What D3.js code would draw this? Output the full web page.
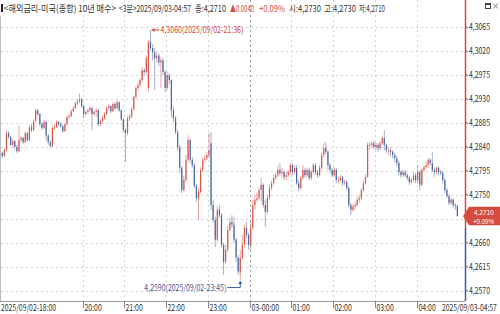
<!DOCTYPE html>
<html><head><meta charset="utf-8">
<script src="https://cdn.jsdelivr.net/npm/d3@7"></script>
<style>
html,body{margin:0;padding:0;background:#fff;}
svg{display:block;}
text{font-family:"Noto Sans CJK KR","Noto Sans",sans-serif;}
text.num{font-family:"Liberation Sans","DejaVu Sans",sans-serif;}
</style></head>
<body>
<svg id="c" width="500" height="314"></svg>
<script>
// ---------- DATA ----------
const title = "<해외금리-미국(종합) 10년 매수>";
const period = "<3분>2025/09/03-04:57";
const startTime = new Date(2025, 8, 2, 18, 0);
const barMinutes = 3;
const opens = [4.2793,4.2829,4.2823,4.2834,4.2866,4.2859,4.2844,4.2851,4.2840,4.2832,4.2853,4.2857,4.2849,4.2866,4.2853,4.2877,4.2872,4.2889,4.2909,4.2902,
4.2883,4.2876,4.2887,4.2862,4.2849,4.2842,4.2876,4.2877,4.2887,4.2883,4.2879,4.2870,4.2883,4.2896,4.2898,4.2907,4.2913,4.2922,4.2926,4.2930,
4.2917,4.2902,4.2906,4.2909,4.2913,4.2902,4.2906,4.2909,4.2883,4.2889,4.2894,4.2902,4.2913,4.2917,4.2907,4.2921,4.2913,4.2924,4.2909,4.2892,
4.2872,4.2866,4.2894,4.2898,4.2911,4.2934,4.2951,4.2956,4.2966,4.2984,4.2981,4.2951,4.3037,4.3026,4.3018,4.3007,4.3012,4.2999,4.3003,4.2981,
4.2951,4.2975,4.2966,4.2909,4.2894,4.2868,4.2840,4.2801,4.2759,4.2778,4.2816,4.2853,4.2816,4.2806,4.2767,4.2744,4.2756,4.2797,4.2816,4.2819,
4.2825,4.2847,4.2731,4.2703,4.2666,4.2722,4.2712,4.2656,4.2624,4.2647,4.2684,4.2699,4.2694,4.2666,4.2632,4.2604,4.2632,4.2656,4.2688,4.2675,
4.2656,4.2688,4.2731,4.2741,4.2744,4.2759,4.2769,4.2731,4.2718,4.2744,4.2763,4.2772,4.2782,4.2787,4.2797,4.2791,4.2793,4.2784,4.2787,4.2793,
4.2806,4.2793,4.2801,4.2772,4.2763,4.2782,4.2797,4.2787,4.2797,4.2782,4.2793,4.2806,4.2793,4.2787,4.2801,4.2825,4.2838,4.2831,4.2806,4.2797,
4.2787,4.2797,4.2778,4.2778,4.2782,4.2772,4.2774,4.2763,4.2731,4.2722,4.2728,4.2731,4.2741,4.2744,4.2759,4.2772,4.2784,4.2844,4.2844,4.2847,
4.2840,4.2844,4.2838,4.2847,4.2857,4.2844,4.2834,4.2834,4.2831,4.2825,4.2819,4.2810,4.2793,4.2787,4.2793,4.2787,4.2782,4.2774,4.2778,4.2787,
4.2778,4.2793,4.2769,4.2797,4.2802,4.2806,4.2816,4.2810,4.2797,4.2793,4.2801,4.2793,4.2791,4.2778,4.2759,4.2748,4.2735,4.2741,4.2731,4.2730];
const highs = [4.2832,4.2831,4.2838,4.2872,4.2870,4.2861,4.2855,4.2853,4.2844,4.2881,4.2861,4.2859,4.2870,4.2868,4.2881,4.2883,4.2892,4.2913,4.2911,4.2904,
4.2887,4.2891,4.2889,4.2864,4.2853,4.2879,4.2883,4.2891,4.2889,4.2887,4.2881,4.2885,4.2900,4.2902,4.2911,4.2917,4.2926,4.2930,4.2941,4.2932,
4.2919,4.2909,4.2913,4.2917,4.2915,4.2909,4.2913,4.2911,4.2892,4.2898,4.2906,4.2917,4.2921,4.2919,4.2924,4.2924,4.2928,4.2926,4.2911,4.2894,
4.2876,4.2898,4.2902,4.2915,4.2937,4.2954,4.2962,4.2969,4.2990,4.2988,4.3012,4.3041,4.3060,4.3033,4.3026,4.3018,4.3016,4.3009,4.3007,4.2984,
4.2981,4.2979,4.2967,4.2917,4.2898,4.2872,4.2844,4.2804,4.2786,4.2825,4.2862,4.2857,4.2821,4.2810,4.2771,4.2763,4.2802,4.2821,4.2825,4.2831,
4.2866,4.2868,4.2741,4.2709,4.2728,4.2731,4.2716,4.2660,4.2656,4.2692,4.2707,4.2712,4.2709,4.2669,4.2637,4.2647,4.2675,4.2694,4.2699,4.2679,
4.2699,4.2741,4.2750,4.2754,4.2765,4.2782,4.2772,4.2741,4.2750,4.2769,4.2778,4.2787,4.2793,4.2804,4.2810,4.2801,4.2797,4.2793,4.2797,4.2810,
4.2810,4.2806,4.2806,4.2778,4.2786,4.2806,4.2801,4.2801,4.2801,4.2797,4.2810,4.2810,4.2797,4.2806,4.2829,4.2847,4.2849,4.2834,4.2810,4.2801,
4.2802,4.2801,4.2784,4.2787,4.2786,4.2778,4.2778,4.2767,4.2735,4.2733,4.2737,4.2746,4.2750,4.2763,4.2778,4.2789,4.2849,4.2849,4.2851,4.2851,
4.2849,4.2847,4.2851,4.2861,4.2872,4.2847,4.2840,4.2840,4.2834,4.2829,4.2823,4.2814,4.2797,4.2797,4.2797,4.2791,4.2786,4.2782,4.2793,4.2791,
4.2806,4.2797,4.2801,4.2806,4.2812,4.2819,4.2819,4.2831,4.2801,4.2804,4.2804,4.2797,4.2795,4.2782,4.2763,4.2752,4.2744,4.2744,4.2735,4.2730];
const lows = [4.2789,4.2819,4.2821,4.2832,4.2855,4.2842,4.2840,4.2836,4.2829,4.2831,4.2849,4.2846,4.2847,4.2851,4.2851,4.2868,4.2870,4.2887,4.2898,4.2879,
4.2872,4.2874,4.2853,4.2844,4.2838,4.2840,4.2872,4.2876,4.2879,4.2876,4.2866,4.2868,4.2881,4.2892,4.2896,4.2906,4.2911,4.2919,4.2922,4.2913,
4.2894,4.2898,4.2902,4.2906,4.2872,4.2898,4.2896,4.2879,4.2879,4.2885,4.2891,4.2900,4.2909,4.2904,4.2906,4.2909,4.2911,4.2906,4.2889,4.2868,
4.2812,4.2862,4.2889,4.2894,4.2909,4.2930,4.2945,4.2952,4.2962,4.2973,4.2977,4.2943,4.3022,4.3003,4.2947,4.2999,4.2992,4.2951,4.2975,4.2943,
4.2947,4.2958,4.2896,4.2887,4.2864,4.2834,4.2791,4.2754,4.2756,4.2774,4.2812,4.2810,4.2801,4.2763,4.2737,4.2703,4.2752,4.2793,4.2810,4.2816,
4.2819,4.2722,4.2699,4.2652,4.2662,4.2707,4.2651,4.2600,4.2621,4.2643,4.2681,4.2688,4.2660,4.2624,4.2600,4.2590,4.2628,4.2651,4.2669,4.2647,
4.2647,4.2684,4.2722,4.2737,4.2741,4.2737,4.2726,4.2690,4.2714,4.2741,4.2759,4.2769,4.2778,4.2784,4.2786,4.2782,4.2778,4.2778,4.2784,4.2787,
4.2787,4.2789,4.2769,4.2757,4.2759,4.2778,4.2782,4.2784,4.2778,4.2778,4.2789,4.2787,4.2782,4.2784,4.2797,4.2821,4.2827,4.2797,4.2791,4.2784,
4.2784,4.2772,4.2772,4.2776,4.2767,4.2769,4.2759,4.2726,4.2712,4.2718,4.2722,4.2728,4.2735,4.2741,4.2756,4.2769,4.2782,4.2834,4.2840,4.2836,
4.2834,4.2831,4.2834,4.2844,4.2834,4.2829,4.2825,4.2823,4.2819,4.2812,4.2804,4.2787,4.2782,4.2784,4.2784,4.2778,4.2769,4.2772,4.2774,4.2772,
4.2772,4.2759,4.2765,4.2793,4.2799,4.2802,4.2806,4.2793,4.2784,4.2789,4.2787,4.2787,4.2772,4.2754,4.2744,4.2731,4.2731,4.2726,4.2722,4.2710];
const closes = [4.2829,4.2823,4.2834,4.2866,4.2859,4.2844,4.2851,4.2840,4.2832,4.2853,4.2857,4.2849,4.2866,4.2853,4.2877,4.2872,4.2889,4.2909,4.2902,4.2883,
4.2876,4.2887,4.2862,4.2849,4.2842,4.2876,4.2877,4.2887,4.2883,4.2879,4.2870,4.2883,4.2896,4.2898,4.2907,4.2913,4.2922,4.2926,4.2930,4.2917,
4.2902,4.2906,4.2909,4.2913,4.2902,4.2906,4.2909,4.2883,4.2889,4.2894,4.2902,4.2913,4.2917,4.2907,4.2921,4.2913,4.2924,4.2909,4.2892,4.2872,
4.2866,4.2894,4.2898,4.2911,4.2934,4.2951,4.2956,4.2966,4.2984,4.2981,4.3007,4.3037,4.3026,4.3018,4.3007,4.3012,4.2999,4.3003,4.2981,4.2951,
4.2975,4.2966,4.2909,4.2894,4.2868,4.2840,4.2801,4.2759,4.2778,4.2816,4.2853,4.2816,4.2806,4.2767,4.2744,4.2756,4.2797,4.2816,4.2819,4.2825,
4.2834,4.2731,4.2703,4.2666,4.2722,4.2712,4.2656,4.2624,4.2647,4.2684,4.2699,4.2694,4.2666,4.2632,4.2606,4.2632,4.2656,4.2688,4.2675,4.2656,
4.2688,4.2731,4.2741,4.2744,4.2759,4.2769,4.2731,4.2718,4.2744,4.2763,4.2772,4.2782,4.2787,4.2797,4.2791,4.2793,4.2784,4.2787,4.2793,4.2806,
4.2793,4.2801,4.2772,4.2763,4.2782,4.2797,4.2787,4.2797,4.2782,4.2793,4.2806,4.2793,4.2787,4.2801,4.2825,4.2838,4.2831,4.2806,4.2797,4.2787,
4.2797,4.2778,4.2778,4.2782,4.2772,4.2774,4.2763,4.2731,4.2722,4.2728,4.2731,4.2741,4.2744,4.2759,4.2772,4.2784,4.2844,4.2844,4.2847,4.2840,
4.2844,4.2838,4.2847,4.2857,4.2844,4.2834,4.2834,4.2831,4.2825,4.2819,4.2810,4.2793,4.2787,4.2793,4.2787,4.2782,4.2774,4.2778,4.2787,4.2778,
4.2793,4.2769,4.2797,4.2802,4.2806,4.2816,4.2810,4.2797,4.2793,4.2801,4.2793,4.2791,4.2778,4.2759,4.2748,4.2735,4.2741,4.2731,4.2730,4.2710];
const priceTicks = [4.2570,4.2615,4.2660,4.2705,4.2750,4.2795,4.2840,4.2885,4.2930,4.2975,4.3020,4.3065];
const hiddenTicks = [4.2705];
const timeTickLabels = ["2025/09/02-18:00","20:00","21:00","22:00","23:00","03-00:00","01:00","02:00","03:00","04:00"];
const timeTickHours = [18,20,21,22,23,24,25,26,27,28];
const lastLabel = "2025/09/03-04:57";
const lastPrice = 4.2710, change = "▲0.0040", changePct = "+0.09%";
const maxInfo = {v:4.3060, t:"2025/09/02-21:36", idx:72};
const minInfo = {v:4.2590, t:"2025/09/02-23:45", idx:115};

// ---------- CHART ----------
const RED = "#d64a3f", BLUE = "#3d5c9c", TXT = "#333";
const svg = d3.select("#c");
const fmt = v => v.toFixed(4).replace(".", ",");
const times = opens.map((_, i) => d3.timeMinute.offset(startTime, i * barMinutes));
const hr = h => d3.timeHour.offset(startTime, h - 18);

// squeeze a text horizontally (around its anchor x) to a target pixel width
function fit(sel, widthFn) {
  sel.each(function (d, i) {
    const w = this.getComputedTextLength();
    const target = typeof widthFn === "function" ? widthFn(d, i) : widthFn;
    const s = target / w;
    const tx = +this.getAttribute("x") || 0;
    this.setAttribute("transform", `translate(${tx},0) scale(${s},1) translate(${-tx},0)`);
  });
}

const x = d3.scaleTime().domain([hr(18), hr(29)]).range([-0.8, -0.8 + 41.75 * 11]);
const y = d3.scaleLinear().domain([4.2570, 4.3065]).range([290.7, 27.3]);
const plotBottom = 301, axisX = 465;

// horizontal dotted grid
svg.append("g").selectAll("line").data(priceTicks).join("line")
  .attr("x1", 1).attr("x2", axisX).attr("y1", d => Math.round(y(d)) + 0.5).attr("y2", d => Math.round(y(d)) + 0.5)
  .attr("stroke", "#d4d4d4").attr("stroke-dasharray", "2,3").attr("stroke-width", 1);
// vertical dotted grid
svg.append("g").selectAll("line").data(timeTickHours).join("line")
  .attr("x1", d => Math.round(x(hr(d))) + 0.5).attr("x2", d => Math.round(x(hr(d))) + 0.5)
  .attr("y1", 0).attr("y2", plotBottom)
  .attr("stroke", d => d === 24 ? "#9a9a9a" : "#d4d4d4").attr("stroke-dasharray", "2,3");

// candles
const bw = 1.2;
const g = svg.append("g");
const cx = i => x(times[i]) + 1.0;
g.selectAll("line.w").data(opens).join("line").attr("class", "w")
  .attr("x1", (d, i) => cx(i)).attr("x2", (d, i) => cx(i))
  .attr("y1", (d, i) => y(highs[i])).attr("y2", (d, i) => y(lows[i]))
  .attr("stroke", (d, i) => closes[i] >= opens[i] ? RED : BLUE).attr("stroke-width", 0.7).attr("stroke-opacity", 0.7);
g.selectAll("rect").data(opens).join("rect")
  .attr("x", (d, i) => cx(i) - bw / 2).attr("width", bw)
  .attr("y", (d, i) => y(Math.max(opens[i], closes[i])))
  .attr("height", (d, i) => Math.max(1, Math.abs(y(opens[i]) - y(closes[i]))))
  .attr("fill", (d, i) => closes[i] >= opens[i] ? RED : BLUE).attr("fill-opacity", 0.9);

// left border and bottom axis
svg.append("line").attr("x1", 0.5).attr("x2", 0.5).attr("y1", 16).attr("y2", plotBottom).attr("stroke", "#bbb");
svg.append("line").attr("x1", 0).attr("x2", axisX).attr("y1", plotBottom + 0.5).attr("y2", plotBottom + 0.5).attr("stroke", "#999");

// right axis line (red above, blue below)
svg.append("line").attr("x1", axisX + 0.5).attr("x2", axisX + 0.5).attr("y1", 0).attr("y2", 228).attr("stroke", RED).attr("stroke-width", 1.5);
svg.append("line").attr("x1", axisX + 0.5).attr("x2", axisX + 0.5).attr("y1", 228).attr("y2", plotBottom).attr("stroke", BLUE).attr("stroke-width", 1.5);

// price tick labels
const pt = svg.append("g").selectAll("g").data(priceTicks.filter(d => !hiddenTicks.includes(d))).join("g")
  .attr("transform", d => `translate(${axisX},${y(d)})`);
pt.append("line").attr("x1", 0).attr("x2", 3).attr("stroke", "#666");
fit(pt.append("text").attr("x", 4).attr("dy", "0.35em").attr("font-size", 9).attr("fill", TXT).text(fmt), 21);

// current price marker
const ly = y(lastPrice);
svg.append("path").attr("d", `M${axisX - 2},${ly} L${axisX + 4},${ly - 9.5} L500,${ly - 9.5} L500,${ly + 9} L${axisX + 4},${ly + 9} Z`).attr("fill", RED);
fit(svg.append("text").attr("class", "num").attr("x", 474).attr("y", ly - 1.6).attr("font-size", 7.5).attr("fill", "#fff").text(fmt(lastPrice)), 20);
fit(svg.append("text").attr("class", "num").attr("x", 473).attr("y", ly + 7.4).attr("font-size", 7.5).attr("fill", "#fff").text(changePct), 21);

// time axis labels
const tl = svg.append("g").selectAll("g").data(timeTickHours).join("g")
  .attr("transform", d => `translate(${Math.round(x(hr(d))) + 0.5},${plotBottom})`);
tl.append("line").attr("y1", 0).attr("y2", 7).attr("stroke", "#888");
fit(tl.append("text").attr("x", (d, i) => i === 0 ? 1.5 : 1).attr("y", 10).attr("font-size", 9).attr("fill", TXT)
  .text((d, i) => timeTickLabels[i]), (d, i) => timeTickLabels[i].length * 3.45);
svg.append("rect").attr("x", 440).attr("y", plotBottom + 1).attr("width", 60).attr("height", 12).attr("fill", "#fff");
fit(svg.append("text").attr("x", 442).attr("y", plotBottom + 10).attr("font-size", 9).attr("fill", TXT).text(lastLabel), 55);

// max / min annotations
const mxX = cx(maxInfo.idx), mxY = y(maxInfo.v);
svg.append("line").attr("x1", mxX + 1).attr("x2", mxX + 9).attr("y1", mxY).attr("y2", mxY).attr("stroke", RED);
svg.append("path").attr("d", `M${mxX + 1},${mxY} l3,-2 l0,4 Z`).attr("fill", RED);
fit(svg.append("text").attr("x", mxX + 10).attr("y", mxY).attr("dy", "0.35em").attr("font-size", 9).attr("fill", RED)
  .text(`${fmt(maxInfo.v)}(${maxInfo.t})`), 83);
const mnX = cx(minInfo.idx), mnY = y(minInfo.v);
svg.append("path").attr("d", `M${mnX - 13},${mnY + 7.5} H${mnX} V${mnY + 1}`).attr("fill", "none").attr("stroke", BLUE);
svg.append("path").attr("d", `M${mnX},${mnY + 1} l-2,3 l4,0 Z`).attr("fill", BLUE);
fit(svg.append("text").attr("x", mnX - 14).attr("y", mnY + 7.5).attr("dy", "0.35em").attr("text-anchor", "end").attr("font-size", 9).attr("fill", BLUE)
  .text(`${fmt(minInfo.v)}(${minInfo.t})`), 82);

// header
svg.append("rect").attr("x", 1).attr("y", 4).attr("width", 2).attr("height", 8).attr("fill", "#222");
const hdr = [
  [4, 112, title, TXT], [119, 72, period, TXT], [195, 31, "종:" + fmt(lastPrice), TXT],
  [230, 24, change, RED], [259, 26, changePct, RED],
  [289, 32, "시:" + fmt(opens[opens.length - 1]), TXT], [324, 32, "고:" + fmt(highs[highs.length - 1]), TXT],
  [359, 26, "저:" + fmt(lows[lows.length - 1]), TXT]];
fit(svg.append("g").selectAll("text").data(hdr).join("text")
  .attr("x", d => d[0]).attr("y", 12).attr("font-size", 9.5).attr("fill", d => d[3]).text(d => d[2]), d => d[1]);
// window icons
svg.append("rect").attr("x", 485.5).attr("y", 3.5).attr("width", 5).attr("height", 5).attr("fill", "none").attr("stroke", "#444");
svg.append("rect").attr("x", 485.5).attr("y", 3.5).attr("width", 5).attr("height", 1.5).attr("fill", "#444");
svg.append("path").attr("d", "M493,3.5 l5,5 M498,3.5 l-5,5").attr("stroke", "#777");
</script>
</body></html>
